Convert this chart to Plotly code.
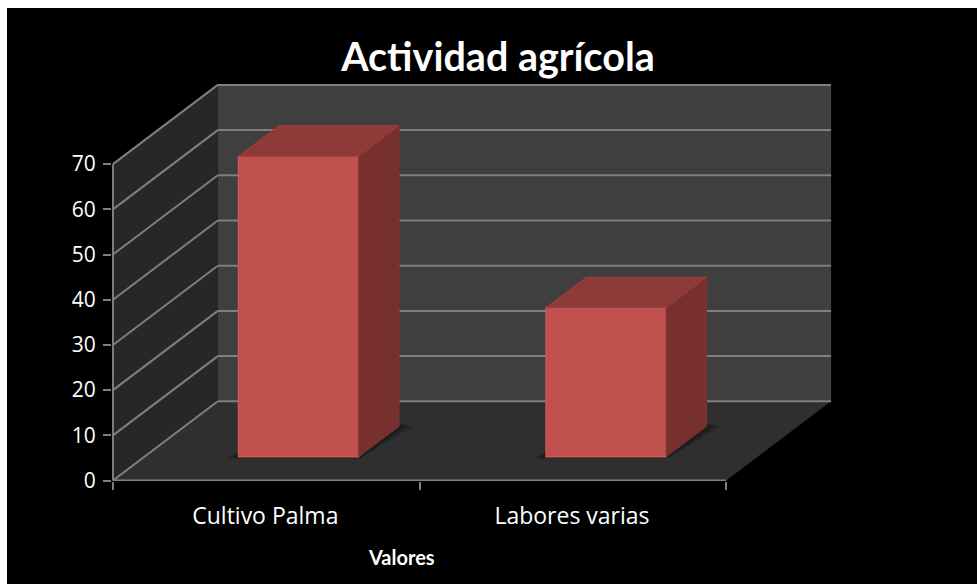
import plotly.graph_objects as go

# Data
categorias = ["Cultivo Palma", "Labores varias"]
valores = [66.5, 33]
y_ticks = [0, 10, 20, 30, 40, 50, 60, 70]
titulo = "Actividad agrícola"
eje_x = "Valores"

# Oblique projection of the 3D box (depth 0..1 becomes an offset in axis units)
DX = 105 / 307
DY = 79.5 / 4.536
Y_MAX = 70
N = len(categorias)
BAR_W = 0.392
BAR_D0 = 0.30
BAR_D = 0.385
BAR_SHIFT = 0.003
FONT = "Open Sans"
FONT_B = "Lato"
GRID = "#7f7f7f"


def proj(x, y, d):
    return x + d * DX, y + d * DY


def path(points):
    return "M " + " L ".join(f"{x},{y}" for x, y in points) + " Z"


def poly(points, fill, line=None, width=0, opacity=1):
    return dict(type="path", path=path(points), xref="x", yref="y", layer="below",
                fillcolor=fill, opacity=opacity, line=dict(color=line or fill, width=width))


def seg(p, q, color=GRID, width=2):
    return dict(type="line", x0=p[0], y0=p[1], x1=q[0], y1=q[1], xref="x", yref="y",
                layer="below", line=dict(color=color, width=width))


shapes = [
    # figure background (leaves a thin white page edge at the top and left)
    dict(type="rect", xref="paper", yref="paper", x0=-105 / 720, x1=865 / 720,
         y0=-103 / 397, y1=1 + 76 / 397, fillcolor="black", line=dict(width=0), layer="below"),
    poly([proj(0, 0, 1), proj(N, 0, 1), proj(N, Y_MAX, 1), proj(0, Y_MAX, 1)], "#3f3f3f"),
    poly([proj(0, 0, 0), proj(0, 0, 1), proj(0, Y_MAX, 1), proj(0, Y_MAX, 0)], "#272727"),
    poly([proj(0, 0, 0), proj(N, 0, 0), proj(N, 0, 1), proj(0, 0, 1)], "#2f2f2f"),
]
for t in y_ticks:
    shapes.append(seg(proj(0, t, 0), proj(0, t, 1)))
    shapes.append(seg(proj(0, t, 1), proj(N, t, 1)))
shapes.append(seg(proj(0, 0, 0), proj(0, Y_MAX, 0)))
shapes.append(seg(proj(0, 0, 0), proj(N, 0, 0)))

fig = go.Figure()

# bars
xs = [i + 0.5 + BAR_D0 * DX + BAR_SHIFT * (i + 1) for i in range(N)]
base = BAR_D0 * DY
a, b = BAR_D * DX, BAR_D * DY
for x in xs:
    l, r = x - BAR_W / 2, x + BAR_W / 2
    for g, op in ((0.05, 0.2), (0.034, 0.3), (0.018, 0.4)):
        shapes.append(poly([(l - g, base - 0.3), (r + 0.004, base - 0.3),
                            (r + a + g, base + b), (r + a, base + b + 0.5),
                            (l, base + 1)],
                           "#141414", opacity=op))

fig.add_trace(go.Bar(x=xs, y=valores, base=[base] * N, width=BAR_W,
                     marker=dict(color="#c0504d", line=dict(color="#cb5a56", width=1.5)),
                     hoverinfo="skip", showlegend=False))

for x, v in zip(xs, valores):
    l, r = x - BAR_W / 2, x + BAR_W / 2
    top = base + v
    side = [(r, base), (r + a, base + b), (r + a, top + b), (r, top), (r, base)]
    roof = [(l, top), (r, top), (r + a, top + b), (l + a, top + b), (l, top)]
    fig.add_trace(go.Scatter(x=[p[0] for p in side], y=[p[1] for p in side], mode="lines",
                             fill="toself", fillcolor="#77302e", line=dict(color="#7c3230", width=1),
                             hoverinfo="skip", showlegend=False))
    fig.add_trace(go.Scatter(x=[p[0] for p in roof], y=[p[1] for p in roof], mode="lines",
                             fill="toself", fillcolor="#8e3a38", line=dict(color="#993f3c", width=1),
                             hoverinfo="skip", showlegend=False))

fig.update_layout(
    width=977, height=584, autosize=False,
    margin=dict(l=112, r=145, t=84, b=103, pad=0),
    paper_bgcolor="white", plot_bgcolor="rgba(0,0,0,0)",
    font=dict(family=FONT, color="white", size=18),
    showlegend=False,
    shapes=shapes,
    title=dict(text=f"<b>{titulo}</b>", x=498 / 977, xanchor="center", xref="container",
               y=1 - 57 / 584, yanchor="middle", yref="container",
               font=dict(family=FONT_B, size=39.5, color="white")),
    xaxis=dict(range=[-0.003, N + DX + 0.003], showgrid=False, zeroline=False, showline=False,
               tickmode="array", tickvals=[i + 0.497 for i in range(N)],
               ticktext=categorias,
               ticks="", ticklabelstandoff=19, tickfont=dict(family=FONT, size=23, color="white"),
               minor=dict(tickmode="array", tickvals=list(range(N + 1)), ticks="outside",
                          ticklen=8, tickwidth=2, tickcolor=GRID, showgrid=False)),
    yaxis=dict(range=[-0.1, Y_MAX + DY + 0.2], showgrid=False, zeroline=False, showline=False,
               tickmode="array", tickvals=y_ticks, ticks="outside", ticklen=8, tickwidth=2,
               tickcolor=GRID, ticklabelstandoff=3,
               tickfont=dict(family=FONT, size=21, color="white")),
    annotations=[dict(text=f"<b>{eje_x}</b>", x=(401 - 112) / 307, xref="x", y=-(557 - 481) / 397,
                      yref="paper", xanchor="center", yanchor="middle", showarrow=False,
                      font=dict(family=FONT_B, size=20, color="white"))],
)

fig.write_html("out.html", config={"displayModeBar": False},
               post_script="document.body.style.margin='0';document.body.style.overflow='hidden';")
